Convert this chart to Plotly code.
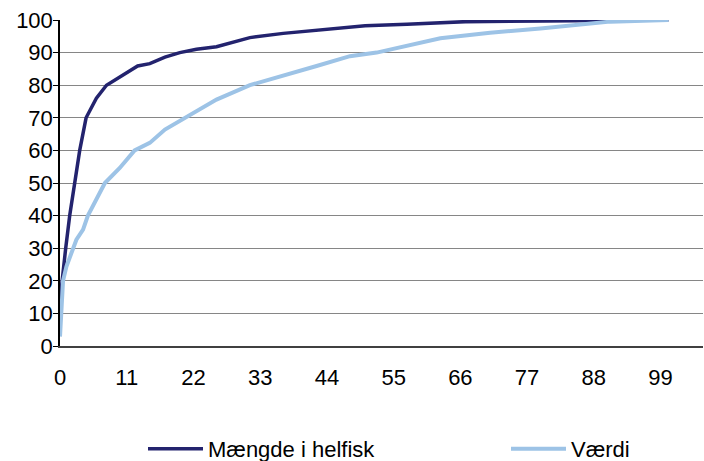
import plotly.graph_objects as go

# Cumulative curves (x = category position, y = percent)
maengde_x = [0, 0.33, 0.94, 1.6, 2.43, 3.25, 4.3, 6.0, 7.66, 10.1, 12.8, 14.8, 17.3, 19.75,
             22.5, 25.8, 28.5, 31.3, 36.8, 42.3, 47.8, 50.3, 57.2, 66.8, 80, 91, 100.3]
maengde_y = [14, 20, 30, 40, 50, 60, 70, 76, 80, 82.8, 85.9, 86.6, 88.6, 90,
             91.0, 91.8, 93.3, 94.6, 95.9, 96.8, 97.6, 98.2, 98.7, 99.5, 99.7, 100, 100]

vaerdi_x = [0, 0.23, 0.5, 1.06, 2.15, 2.7, 3.8, 4.6, 7.4, 9.85, 12.3, 14.8, 17.3, 20.6,
            25.8, 31.3, 36.8, 42.3, 47.8, 52.2, 62.7, 70.9, 79.2, 85.8, 90.7, 100.3]
vaerdi_y = [2.9, 9.5, 20, 24.4, 30, 32.6, 35.7, 40, 50, 54.6, 60, 62.3, 66.4, 70,
            75.6, 80, 82.8, 85.9, 88.9, 90, 94.4, 96.1, 97.4, 98.7, 99.5, 100]

x_ticks = [0, 11, 22, 33, 44, 55, 66, 77, 88, 99]
y_ticks = [0, 10, 20, 30, 40, 50, 60, 70, 80, 90, 100]

fig = go.Figure()
fig.add_trace(go.Scatter(x=maengde_x, y=maengde_y, mode="lines", name="Mængde i helfisk",
                         line=dict(color="#23236E", width=3.5), legend="legend"))
fig.add_trace(go.Scatter(x=vaerdi_x, y=vaerdi_y, mode="lines", name="Værdi",
                         line=dict(color="#9DC3E6", width=4), legend="legend2"))

leg_common = dict(orientation="h", y=-0.316, yanchor="middle", xanchor="left",
                  itemwidth=55, font=dict(size=22), bgcolor="rgba(0,0,0,0)")

fig.update_layout(
    width=704, height=461,
    margin=dict(l=60, r=1, t=20, b=115, autoexpand=False),
    paper_bgcolor="white", plot_bgcolor="white",
    font=dict(family="Liberation Sans, Arial, sans-serif", size=22, color="black"),
    showlegend=True,
    legend=dict(x=(143 - 60) / 643, **leg_common),
    legend2=dict(x=(506 - 60) / 643, **leg_common),
    xaxis=dict(range=[0, 106], tickvals=x_ticks, ticktext=[str(v) for v in x_ticks],
               showgrid=False, zeroline=False, showline=True, linecolor="#404040",
               linewidth=1.5, ticks="", ticklabelstandoff=11, fixedrange=True,
               automargin=False),
    yaxis=dict(range=[0, 100], tickvals=y_ticks, showgrid=True, gridcolor="#868686",
               gridwidth=1, zeroline=False, showline=True, linecolor="black", linewidth=1.5,
               ticks="outside", ticklen=5, tickcolor="black", ticklabelstandoff=-4,
               fixedrange=True, automargin=False),
)

fig.write_html("out.html", config={"displayModeBar": False},
               post_script="document.body.style.margin='0';document.body.style.overflow='hidden';")
